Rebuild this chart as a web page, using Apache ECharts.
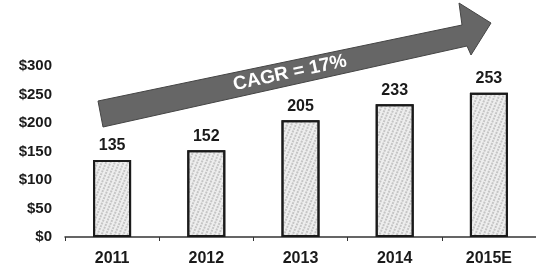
<!DOCTYPE html>
<html>
<head>
<meta charset="utf-8">
<script src="https://cdn.jsdelivr.net/npm/echarts@6/dist/echarts.min.js"></script>
<style>
  html, body { margin: 0; padding: 0; background: #fff; }
  #chart { width: 536px; height: 268px; }
</style>
</head>
<body>
<div id="chart"></div>
<script>
const years = ['2011', '2012', '2013', '2014', '2015E'];
const values = [135, 152, 205, 233, 253];
const yTicks = [0, 50, 100, 150, 200, 250, 300];

const chart = echarts.init(document.getElementById('chart'));

// arrow outline (annotation, not data)
const arrowPts = [
  [98, 101], [462, 25], [459, 3], [491, 23], [471, 55], [467, 46], [103, 127]
];

const option = {
  animation: false,
  aria: { enabled: true, decal: { show: true } },
  grid: { left: 65, right: 0, top: 66, bottom: 31 },
  xAxis: {
    type: 'category',
    data: years,
    axisLine: { lineStyle: { color: '#333', width: 1.5 } },
    axisTick: { show: true, length: 4, lineStyle: { color: '#333' } },
    axisLabel: {
      color: '#1a1a1a', fontWeight: 'bold', fontSize: 16,
      fontFamily: 'Liberation Sans', margin: 14
    }
  },
  yAxis: {
    type: 'value',
    min: yTicks[0],
    max: yTicks[yTicks.length - 1],
    interval: 50,
    splitLine: { show: false },
    axisLine: { show: false },
    axisTick: { show: false },
    axisLabel: {
      color: '#1a1a1a', fontWeight: 'bold', fontSize: 15,
      fontFamily: 'Liberation Sans', margin: 13,
      formatter: v => '$' + v
    }
  },
  series: [{
    type: 'bar',
    data: values,
    barWidth: 38,
    itemStyle: {
      color: '#eeeeee',
      borderColor: '#1a1a1a',
      borderWidth: 2,
      decal: {
        symbol: 'circle',
        symbolSize: 0.7,
        color: 'rgba(50,50,50,0.6)',
        dashArrayX: [2, 2],
        dashArrayY: [2, 1],
        rotation: 0.4
      }
    },
    label: {
      show: true,
      position: 'top',
      distance: 6,
      color: '#1a1a1a',
      fontWeight: 'bold',
      fontSize: 16,
      fontFamily: 'Liberation Sans'
    }
  }],
  graphic: [
    {
      type: 'polygon',
      shape: { points: arrowPts },
      style: { fill: '#666666', stroke: '#444', lineWidth: 1 }
    },
    {
      type: 'text',
      x: 290, y: 73,
      rotation: 12 * Math.PI / 180,
      style: {
        text: 'CAGR = 17%',
        fill: '#fff',
        font: 'bold 19px "Liberation Sans"',
        align: 'center',
        verticalAlign: 'middle'
      }
    }
  ]
};

chart.setOption(option);
</script>
</body>
</html>
